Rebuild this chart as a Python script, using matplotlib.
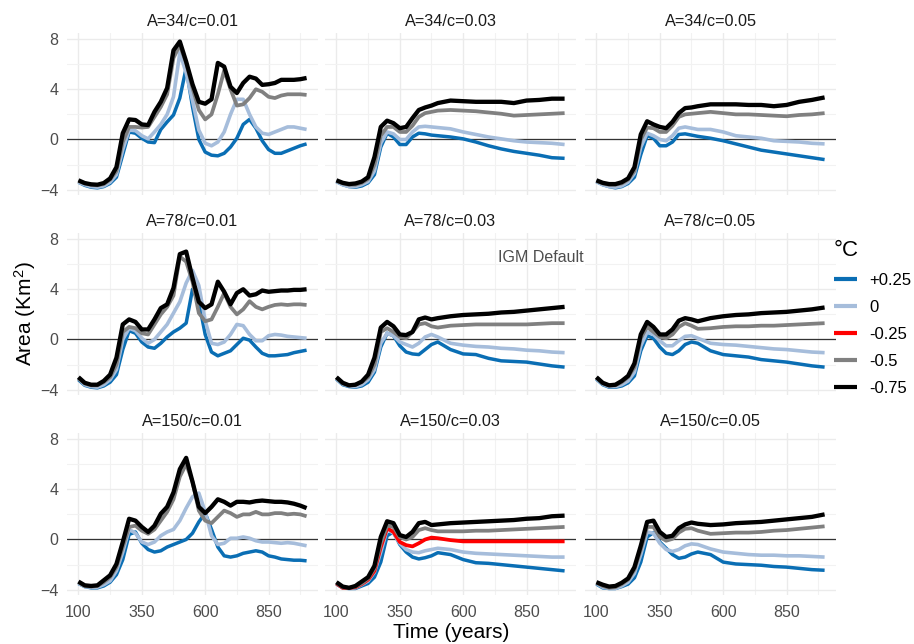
import matplotlib.pyplot as plt
from matplotlib.lines import Line2D

plt.rcParams['font.family'] = ['Liberation Sans', 'DejaVu Sans']
plt.rcParams['mathtext.fontset'] = 'custom'
plt.rcParams['mathtext.rm'] = 'Liberation Sans'
plt.rcParams['mathtext.it'] = 'Liberation Sans:italic'

# time axes (years)
years_fine = [100, 125, 150, 175, 200, 225, 250, 275, 300, 325, 350, 375, 400, 425, 450, 475,
              500, 525, 550, 575, 600, 625, 650, 675, 700, 725, 750, 775, 800, 825, 850, 875,
              900, 925, 950, 975, 1000]
years_coarse = [100, 125, 150, 175, 200, 225, 250, 275, 300, 325, 350, 375, 400, 425, 450, 475,
                500, 550, 600, 650, 700, 750, 800, 850, 900, 950, 1000]

# ---- A=34 / c=0.01
a34_c01_p025 = [-3.4, -3.65, -3.8, -3.85, -3.75, -3.5, -3.0, -1.2, 0.6, 0.5, 0.1, -0.2, -0.25, 0.8, 1.4, 1.95,
                3.3, 5.7, 2.6, 0.0, -1.0, -1.25, -1.3, -1.1, -0.6, 0.1, 1.2, 1.6, 0.9, -0.1, -0.8, -1.1,
                -1.1, -0.9, -0.7, -0.5, -0.35]
a34_c01_0 = [-3.4, -3.6, -3.75, -3.8, -3.7, -3.4, -2.8, -0.8, 0.75, 0.7, 0.3, 0.05, 0.6, 1.2, 2.0, 3.4,
             6.9, 5.3, 3.1, 0.75, -0.3, -0.5, -0.2, 0.6, 2.0, 3.2, 3.2, 2.0, 1.0, 0.5, 0.4, 0.6,
             0.8, 1.0, 1.0, 0.9, 0.8]
a34_c01_m05 = [-3.3, -3.5, -3.6, -3.65, -3.55, -3.2, -2.5, -0.2, 1.0, 1.0, 0.95, 1.0, 1.8, 2.6, 3.6, 6.5,
               7.5, 6.1, 4.1, 2.35, 1.6, 2.0, 3.6, 5.5, 4.0, 2.7, 2.8, 3.3, 4.0, 3.8, 3.4, 3.3,
               3.5, 3.6, 3.6, 3.6, 3.55]
a34_c01_m075 = [-3.25, -3.47, -3.57, -3.6, -3.47, -3.1, -2.2, 0.5, 1.6, 1.55, 1.2, 1.15, 2.2, 3.0, 4.1, 7.1,
                7.8, 6.2, 4.4, 3.0, 2.85, 3.2, 6.1, 5.8, 4.2, 3.7, 4.5, 5.0, 4.85, 4.35, 4.4, 4.5,
                4.75, 4.75, 4.75, 4.8, 4.9]

# ---- A=34 / c=0.03
a34_c03_p025 = [-3.35, -3.6, -3.75, -3.8, -3.7, -3.45, -2.8, -0.6, 0.5, 0.2, -0.4, -0.4, 0.2, 0.5, 0.45, 0.35,
                0.3, 0.2, 0.05, -0.2, -0.5, -0.75, -0.95, -1.1, -1.25, -1.45, -1.5]
a34_c03_0 = [-3.35, -3.6, -3.75, -3.75, -3.6, -3.35, -2.5, -0.3, 0.6, 0.45, 0.0, 0.0, 0.6, 1.0, 1.05, 1.0,
             0.95, 0.85, 0.6, 0.4, 0.2, 0.05, -0.1, -0.2, -0.25, -0.3, -0.4]
a34_c03_m05 = [-3.3, -3.5, -3.6, -3.6, -3.45, -3.15, -2.0, 0.3, 1.0, 1.0, 0.6, 0.6, 1.1, 1.8, 2.1, 2.2,
               2.3, 2.35, 2.3, 2.25, 2.15, 2.05, 1.9, 1.95, 2.0, 2.05, 2.1]
a34_c03_m075 = [-3.25, -3.45, -3.55, -3.5, -3.35, -3.0, -1.4, 1.0, 1.5, 1.3, 0.9, 1.0, 1.7, 2.35, 2.55, 2.7,
                2.9, 3.1, 3.05, 3.0, 3.0, 3.0, 2.9, 3.1, 3.15, 3.25, 3.25]

# ---- A=34 / c=0.05
a34_c05_p025 = [-3.35, -3.6, -3.75, -3.85, -3.75, -3.5, -3.0, -1.2, 0.3, 0.1, -0.5, -0.5, -0.2, 0.4, 0.45, 0.35,
                0.25, 0.1, -0.1, -0.35, -0.6, -0.85, -1.0, -1.15, -1.3, -1.45, -1.6]
a34_c05_0 = [-3.35, -3.6, -3.75, -3.8, -3.7, -3.4, -2.7, -0.6, 0.5, 0.3, 0.0, -0.1, 0.3, 0.9, 1.0, 0.9,
             0.8, 0.8, 0.6, 0.3, 0.2, 0.1, -0.1, -0.15, -0.2, -0.3, -0.35]
a34_c05_m05 = [-3.3, -3.5, -3.6, -3.6, -3.5, -3.2, -2.5, 0.0, 0.95, 0.9, 0.6, 0.6, 1.1, 1.8, 2.0, 2.05,
               2.1, 2.2, 2.1, 2.0, 2.0, 1.95, 1.9, 1.85, 1.95, 2.0, 2.1]
a34_c05_m075 = [-3.25, -3.45, -3.55, -3.55, -3.4, -3.1, -2.2, 0.4, 1.45, 1.2, 1.0, 0.9, 1.4, 2.1, 2.5, 2.55,
                2.65, 2.8, 2.8, 2.8, 2.75, 2.75, 2.65, 2.75, 3.0, 3.15, 3.35]

# ---- A=78 / c=0.01
a78_c01_p025 = [-3.2, -3.65, -3.8, -3.85, -3.7, -3.4, -2.8, -0.8, 0.7, 0.5, -0.2, -0.6, -0.7, -0.3, 0.2, 0.6,
                0.9, 1.3, 4.0, 3.0, 0.4, -1.0, -1.3, -1.1, -0.9, -0.4, 0.1, -0.05, -0.6, -1.1, -1.3, -1.3,
                -1.25, -1.2, -1.05, -0.95, -0.85]
a78_c01_0 = [-3.1, -3.6, -3.75, -3.8, -3.6, -3.2, -2.4, 0.0, 0.9, 0.7, 0.1, -0.3, 0.0, 0.6, 1.2, 2.1,
             3.0, 4.5, 5.5, 4.3, 1.5, -0.3, -0.4, -0.2, 0.4, 1.2, 1.1, 0.4, -0.1, -0.1, 0.3, 0.4,
             0.35, 0.25, 0.2, 0.15, 0.1]
a78_c01_m05 = [-3.1, -3.5, -3.65, -3.65, -3.4, -3.0, -2.0, 0.6, 1.0, 0.9, 0.5, 0.4, 1.2, 2.0, 2.6, 3.5,
               6.6, 6.2, 4.6, 2.1, 1.45, 1.6, 2.6, 3.7, 2.6, 2.0, 2.4, 3.05, 2.6, 2.4, 2.6, 2.75,
               2.8, 2.75, 2.8, 2.8, 2.75]
a78_c01_m075 = [-3.0, -3.45, -3.6, -3.6, -3.3, -2.8, -1.45, 1.2, 1.6, 1.4, 0.8, 0.8, 1.6, 2.5, 2.8, 4.1,
                6.8, 7.0, 4.9, 3.0, 2.5, 2.8, 4.6, 3.8, 2.8, 3.7, 4.0, 3.5, 3.6, 3.9, 3.8, 3.85,
                3.9, 3.9, 3.95, 3.95, 4.0]

# ---- A=78 / c=0.03 (IGM default)
a78_c03_p025 = [-3.15, -3.6, -3.75, -3.8, -3.7, -3.4, -2.6, -0.6, 0.5, 0.3, -0.5, -1.0, -1.15, -1.2, -0.8, -0.4,
                -0.2, -0.8, -1.15, -1.2, -1.5, -1.7, -1.75, -1.8, -1.95, -2.1, -2.2]
a78_c03_0 = [-3.1, -3.55, -3.7, -3.75, -3.6, -3.2, -2.4, -0.3, 0.5, 0.3, -0.2, -0.4, -0.6, -0.3, 0.2, 0.4,
             0.2, -0.3, -0.45, -0.55, -0.6, -0.7, -0.75, -0.85, -0.9, -1.0, -1.05]
a78_c03_m05 = [-3.05, -3.5, -3.65, -3.6, -3.4, -3.0, -2.0, 0.6, 0.9, 0.6, 0.2, 0.1, 0.6, 1.2, 1.3, 1.05,
               0.95, 1.1, 1.15, 1.2, 1.2, 1.2, 1.2, 1.2, 1.25, 1.3, 1.3]
a78_c03_m075 = [-3.0, -3.45, -3.65, -3.6, -3.35, -2.8, -1.45, 0.95, 1.4, 1.05, 0.4, 0.35, 0.6, 1.6, 1.75, 1.6,
                1.7, 1.85, 1.95, 2.0, 2.05, 2.15, 2.2, 2.3, 2.4, 2.5, 2.6]

# ---- A=78 / c=0.05
a78_c05_p025 = [-3.15, -3.6, -3.8, -3.8, -3.7, -3.45, -2.9, -0.9, 0.3, 0.1, -0.6, -1.1, -1.2, -0.9, -0.4, -0.2,
                -0.3, -0.9, -1.2, -1.3, -1.4, -1.6, -1.7, -1.8, -1.95, -2.1, -2.2]
a78_c05_0 = [-3.1, -3.55, -3.75, -3.75, -3.6, -3.3, -2.6, -0.5, 0.6, 0.4, -0.1, -0.5, -0.5, -0.1, 0.25, 0.3,
             0.1, -0.3, -0.4, -0.45, -0.55, -0.65, -0.75, -0.8, -0.9, -1.0, -1.05]
a78_c05_m05 = [-3.05, -3.5, -3.65, -3.65, -3.4, -3.0, -2.2, 0.1, 1.0, 0.6, 0.2, 0.1, 0.4, 1.0, 1.3, 1.1,
               0.85, 0.9, 1.0, 1.05, 1.05, 1.1, 1.1, 1.15, 1.2, 1.25, 1.3]
a78_c05_m075 = [-3.0, -3.45, -3.65, -3.6, -3.3, -2.9, -1.9, 0.4, 1.4, 1.0, 0.4, 0.4, 0.8, 1.5, 1.7, 1.6,
                1.45, 1.7, 1.85, 1.95, 2.0, 2.1, 2.15, 2.2, 2.3, 2.4, 2.55]

# ---- A=150 / c=0.01
a150_c01_p025 = [-3.5, -3.75, -3.85, -3.85, -3.7, -3.4, -2.8, -1.6, 0.4, 0.6, -0.3, -0.8, -1.0, -0.9, -0.6, -0.4,
                 -0.2, 0.0, 0.5, 1.4, 2.1, 0.8, -0.6, -1.3, -1.4, -1.3, -1.1, -1.0, -0.9, -1.0, -1.3, -1.4,
                 -1.55, -1.6, -1.65, -1.65, -1.7]
a150_c01_0 = [-3.5, -3.75, -3.8, -3.8, -3.6, -3.3, -2.5, -1.0, 0.8, 0.5, -0.2, -0.4, -0.2, 0.3, 0.6, 0.8,
              1.5, 2.5, 3.4, 3.7, 2.2, 0.3, -0.4, -0.3, 0.1, 0.1, 0.2, 0.1, -0.1, -0.2, -0.2, -0.25,
              -0.3, -0.25, -0.3, -0.4, -0.5]
a150_c01_m05 = [-3.4, -3.7, -3.75, -3.7, -3.4, -3.0, -2.2, -0.6, 1.0, 1.1, 0.7, 0.45, 0.8, 1.5, 2.2, 3.2,
                5.0, 6.0, 4.6, 2.3, 1.5, 1.3, 1.8, 2.3, 2.1, 1.8, 2.0, 2.0, 2.2, 2.0, 2.0, 2.1,
                2.1, 2.0, 2.05, 2.0, 1.85]
a150_c01_m075 = [-3.35, -3.65, -3.7, -3.65, -3.25, -2.85, -1.95, -0.2, 1.65, 1.5, 1.0, 0.6, 1.1, 2.05, 2.6, 3.75,
                 5.6, 6.5, 4.6, 2.6, 2.1, 2.6, 3.2, 3.0, 2.7, 3.0, 3.0, 2.95, 3.05, 3.1, 3.05, 3.0,
                 3.0, 2.95, 2.85, 2.7, 2.5]

# ---- A=150 / c=0.03
a150_c03_p025 = [-3.55, -3.85, -3.9, -3.9, -3.7, -3.5, -3.0, -1.8, 0.3, 0.6, -0.4, -1.0, -1.4, -1.55, -1.45, -1.3,
                 -1.05, -1.2, -1.6, -1.85, -1.9, -2.0, -2.1, -2.2, -2.3, -2.4, -2.5]
a150_c03_0 = [-3.5, -3.85, -3.9, -3.85, -3.6, -3.3, -2.6, -1.0, 0.8, 0.5, -0.3, -0.8, -1.0, -1.05, -0.9, -0.8,
              -0.7, -0.8, -1.0, -1.1, -1.15, -1.2, -1.25, -1.3, -1.35, -1.4, -1.4]
a150_c03_m025 = [-3.5, -3.85, -3.85, -3.8, -3.55, -3.2, -2.5, -0.6, 0.9, 0.6, -0.2, -0.45, -0.55, -0.3, 0.0, 0.15,
                 0.1, -0.05, -0.15, -0.15, -0.15, -0.15, -0.15, -0.15, -0.15, -0.15, -0.15]
a150_c03_m05 = [-3.45, -3.8, -3.85, -3.75, -3.5, -3.1, -2.3, -0.3, 1.1, 1.0, 0.2, 0.0, 0.2, 0.75, 0.9, 0.75,
                0.65, 0.65, 0.65, 0.7, 0.7, 0.75, 0.8, 0.85, 0.9, 0.95, 1.0]
a150_c03_m075 = [-3.4, -3.75, -3.85, -3.7, -3.35, -3.0, -2.1, 0.2, 1.45, 1.3, 0.35, 0.2, 0.6, 1.3, 1.4, 1.15,
                 1.2, 1.3, 1.35, 1.4, 1.45, 1.5, 1.55, 1.65, 1.7, 1.85, 1.9]

# ---- A=150 / c=0.05
a150_c05_p025 = [-3.55, -3.85, -3.9, -3.9, -3.75, -3.55, -3.05, -1.8, 0.2, 0.55, -0.2, -0.7, -1.2, -1.5, -1.4, -1.15,
                 -1.0, -1.2, -1.8, -1.95, -2.0, -2.05, -2.15, -2.2, -2.3, -2.4, -2.45]
a150_c05_0 = [-3.5, -3.8, -3.9, -3.9, -3.7, -3.4, -2.7, -1.2, 0.6, 0.5, -0.3, -0.8, -0.95, -0.8, -0.5, -0.35,
              -0.4, -0.75, -1.0, -1.1, -1.2, -1.25, -1.25, -1.3, -1.3, -1.35, -1.4]
a150_c05_m05 = [-3.45, -3.7, -3.85, -3.8, -3.55, -3.2, -2.4, -0.8, 1.0, 1.0, 0.2, -0.1, 0.05, 0.55, 0.85, 0.9,
                0.7, 0.45, 0.5, 0.55, 0.55, 0.6, 0.7, 0.75, 0.85, 0.95, 1.05]
a150_c05_m075 = [-3.4, -3.6, -3.75, -3.7, -3.45, -3.1, -2.2, -0.5, 1.4, 1.5, 0.6, 0.2, 0.3, 0.9, 1.2, 1.35,
                 1.25, 1.15, 1.2, 1.3, 1.35, 1.4, 1.5, 1.6, 1.7, 1.8, 2.0]

levels = ['+0.25', '0', '-0.25', '-0.5', '-0.75']
level_colors = ['#0A6EB4', '#A6BDDB', '#FF0000', '#808080', '#000000']
level_widths = [2.5, 2.6, 2.7, 2.7, 3.1]

panels = [
    ('A=34/c=0.01', years_fine, [a34_c01_p025, a34_c01_0, None, a34_c01_m05, a34_c01_m075]),
    ('A=34/c=0.03', years_coarse, [a34_c03_p025, a34_c03_0, None, a34_c03_m05, a34_c03_m075]),
    ('A=34/c=0.05', years_coarse, [a34_c05_p025, a34_c05_0, None, a34_c05_m05, a34_c05_m075]),
    ('A=78/c=0.01', years_fine, [a78_c01_p025, a78_c01_0, None, a78_c01_m05, a78_c01_m075]),
    ('A=78/c=0.03', years_coarse, [a78_c03_p025, a78_c03_0, None, a78_c03_m05, a78_c03_m075]),
    ('A=78/c=0.05', years_coarse, [a78_c05_p025, a78_c05_0, None, a78_c05_m05, a78_c05_m075]),
    ('A=150/c=0.01', years_fine, [a150_c01_p025, a150_c01_0, None, a150_c01_m05, a150_c01_m075]),
    ('A=150/c=0.03', years_coarse, [a150_c03_p025, a150_c03_0, a150_c03_m025, a150_c03_m05, a150_c03_m075]),
    ('A=150/c=0.05', years_coarse, [a150_c05_p025, a150_c05_0, None, a150_c05_m05, a150_c05_m075]),
]

W, H = 914, 644
fig = plt.figure(figsize=(W / 100, H / 100), dpi=100)

lefts = [67, 325, 585]
tops = [33, 233, 433]
pw, ph = 251, 162

for i, (title, xs, series) in enumerate(panels):
    r, c = divmod(i, 3)
    ax = fig.add_axes([lefts[c] / W, 1 - (tops[r] + ph) / H, pw / W, ph / H])
    ax.set_xlim(55, 1045)
    ax.set_ylim(-4.42, 8.48)
    ax.set_xticks([100, 350, 600, 850])
    ax.set_xticks([225, 475, 725, 975], minor=True)
    ax.set_yticks([-4, 0, 4, 8])
    ax.set_yticks([-2, 2, 6], minor=True)
    ax.grid(which='major', color='#EBEBEB', lw=1.0)
    ax.grid(which='minor', color='#F2F2F2', lw=0.8)
    ax.set_axisbelow(True)
    for s in ax.spines.values():
        s.set_visible(False)
    ax.tick_params(which='both', length=0, labelsize=11.5, labelcolor='#4D4D4D')
    ax.tick_params(axis='y', pad=6)
    ax.tick_params(axis='x', pad=7)
    if c != 0:
        ax.set_yticklabels([])
    if r != 2:
        ax.set_xticklabels([])

    ax.axhline(0, color='#333333', lw=0.9, zorder=1.5)
    for ys, col, w in zip(series, level_colors, level_widths):
        if ys is None:
            continue
        ax.plot(xs, ys, color=col, lw=w, solid_capstyle='butt', solid_joinstyle='round', zorder=2)

    ax.text(0.5, 1 + 11 / ph, title, transform=ax.transAxes, ha='center', va='center',
            fontsize=11.7, color='#1A1A1A')

    if title == 'A=78/c=0.03':
        ax.text(0.86, 0.846, 'IGM Default', transform=ax.transAxes, ha='center', va='center',
                fontsize=11.5, color='#4D4D4D')

fig.text(451 / W, 1 - 632 / H, 'Time (years)', ha='center', va='center', fontsize=15)
fig.text(25 / W, 1 - 314 / H, 'Area (Km$^2$)', ha='center', va='center', rotation=90, fontsize=15)

handles = [Line2D([], [], color=col, lw=3.0, solid_capstyle='butt') for col in level_colors]
fig.legend(handles, levels, loc='upper left', bbox_to_anchor=(834 / W, 1 - 240 / H),
           frameon=False, title='°C', title_fontsize=16, fontsize=12, handlelength=1.35,
           handletextpad=0.75, labelspacing=0.72, borderpad=0, borderaxespad=0, alignment='left')

fig.savefig('out.png', dpi=100)
